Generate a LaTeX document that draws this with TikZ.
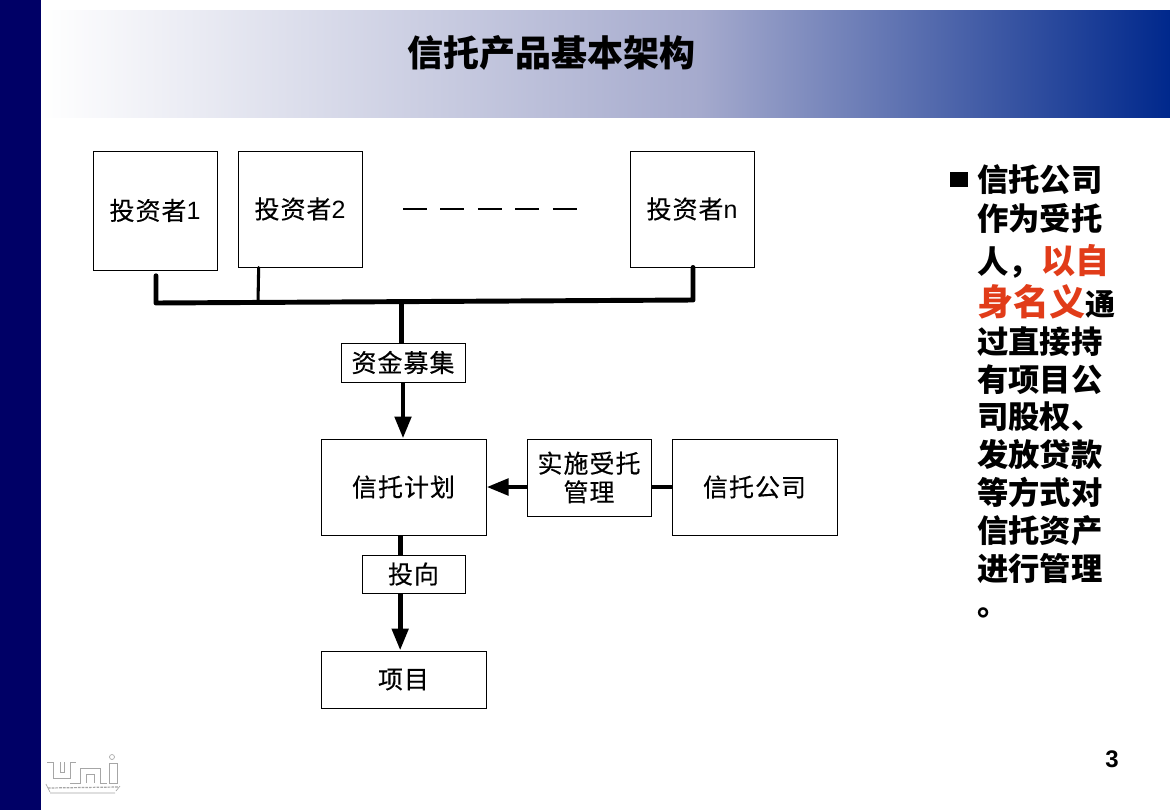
\documentclass[tikz,border=0pt]{standalone}
\usepackage{fontspec}
\usetikzlibrary{arrows.meta}
\setmainfont{Liberation Sans}
\newfontfamily\cjk{Noto Sans CJK SC}
\newfontfamily\cjkm[FakeBold=0.25,LetterSpace=4]{Noto Sans CJK SC}
\definecolor{navy}{RGB}{0,0,102}
\definecolor{barblue}{RGB}{0,40,140}
\definecolor{barmid}{RGB}{165,170,205}
\definecolor{redtxt}{RGB}{225,60,25}
\tikzset{
  box/.style={draw=black,line width=0.75pt,fill=white,inner sep=0pt,align=center,font=\cjkm\fontsize{18.75pt}{21.5pt}\selectfont},
  bus/.style={line width=3.7pt,line cap=round,line join=round},
  arr/.style={line width=3.7pt,-{Triangle[length=16.5pt,width=12pt]}},
  side/.style={anchor=base west,inner sep=0pt,font=\cjk\bfseries\fontsize{23.5pt}{26pt}\selectfont},
  logo/.style={draw=black!35,line width=0.5pt}
}
\begin{document}
\begin{tikzpicture}[x=0.75pt,y=-0.75pt]
\useasboundingbox (0,0) rectangle (1170,810);
\fill[white] (0,0) rectangle (1170,810);
\shade[left color=white,right color=barmid] (41,10) rectangle (700,117.5);
\shade[left color=barmid,right color=barblue] (700,10) rectangle (1170,117.5);
\fill[navy] (0,0) rectangle (41,810);
\node[anchor=center,inner sep=0pt,font=\cjk\bfseries\fontsize{27pt}{30pt}\selectfont] (title) at (551,52.5) {信托产品基本架构};

% boxes
\node[box,minimum width=93pt,minimum height=89.25pt] (b1) at (155,210.5) {投资者{\rmfamily 1}};
\node[box,minimum width=93pt,minimum height=87pt] (b2) at (300,209) {投资者{\rmfamily 2}};
\node[box,minimum width=93pt,minimum height=87pt] (bn) at (692,209) {投资者{\rmfamily n}};
\node[box,minimum width=93pt,minimum height=29.25pt] (raise) at (403,362.5) {资金募集};
\node[box,minimum width=123.75pt,minimum height=72pt] (plan) at (403.5,487) {信托计划};
\node[box,minimum width=93pt,minimum height=57.75pt] (mgmt) at (589,477.5) {实施受托\\管理};
\node[box,minimum width=123.75pt,minimum height=72pt] (trust) at (754.5,487) {信托公司};
\node[box,minimum width=77.25pt,minimum height=28.5pt] (invest) at (413.5,574) {投向};
\node[box,minimum width=123.75pt,minimum height=42.75pt] (proj) at (403.5,679.5) {项目};

% dashes
\coordinate (dl) at (403,209);
\coordinate (dr) at (578,209);
\draw[line width=2.2pt,dash pattern=on 18pt off 10.1pt] (dl) -- (dr);

% bus
\coordinate (busl) at (156,303);
\coordinate (busr) at (693,300);
\coordinate (bus2) at (258,302);
\coordinate (busm) at (401.5,302);
\draw[bus] ([xshift=0.75pt,yshift=-4pt]b1.south) -- (busl) -- (busr) -- ([xshift=0.75pt]bn.south);
\draw[line width=2.3pt,line cap=round] ([xshift=-31pt]b2.south) -- (bus2);
\draw[line width=3.6pt] (busm) -- (busm |- raise.north);
\draw[arr] (raise.south) -- (plan.north -| raise.south);
\draw[arr] (mgmt.west |- plan.east) -- (plan.east);
\draw[line width=3.7pt] (mgmt.east |- trust.west) -- (trust.west);
\draw[line width=3.7pt] ([xshift=-2.5pt]plan.south) -- ([xshift=-2.5pt]invest.north -| plan.south);
\draw[arr] ([xshift=-2.5pt]invest.south -| plan.south) -- ([xshift=-2.5pt]plan.south |- proj.north);

% side text
\fill[black] (950,172) rectangle (968,187);
\node[side] (s1) at (977,191.5) {信托公司};
\node[side] (s2) at (977,230) {作为受托};
\node[side] (s3) at (977,273) {人，\hspace{0.8pt}{\color{redtxt}\fontsize{25.5pt}{28pt}\selectfont 以自}};
\node[side] (s4) at (977,315) {{\color{redtxt}\fontsize{27pt}{30pt}\selectfont 身名义}\fontsize{22.5pt}{26pt}\selectfont 通};
\node[side] (s5) at (977,353.5) {过直接持};
\node[side] (s6) at (977,391.5) {有项目公};
\node[side] (s7) at (977,428.5) {司股权、};
\node[side] (s8) at (977,466.5) {发放贷款};
\node[side] (s9) at (977,504.5) {等方式对};
\node[side] (s10) at (977,542.5) {信托资产};
\node[side] (s11) at (977,580.5) {进行管理};
\node[side] (s12) at (977,615) {。};

\node[inner sep=0pt,font=\bfseries\fontsize{18pt}{20pt}\selectfont] (page) at (1112,759) {3};

% logo
\draw[logo] (47,762) -- (53,762) -- (53,778) -- (70,778) -- (70,762) -- (76,762);
\draw[logo] (60,762) -- (60,772) -- (64,772) -- (64,762);
\draw[logo] (70,783) -- (80,783) -- (80,768) -- (100,768) -- (100,783) -- (107,783);
\draw[logo] (86,783) -- (86,774) -- (94,774) -- (94,783);
\draw[logo] (109,783) -- (109,763) -- (117,763) -- (117,783) -- (109,783);
\draw[logo,line width=0.9pt,dash pattern=on 2pt off 0.8pt] (48,788) -- (118,787);
\draw[logo] (50,793) -- (115,793) (46,784) -- (50,792) (116,791) -- (120,786);
\draw[logo] (112,757) circle (2.5);
\end{tikzpicture}
\end{document}
